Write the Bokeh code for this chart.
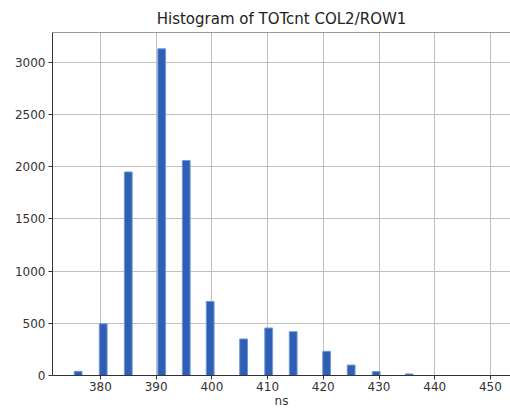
from bokeh.plotting import figure
from bokeh.models import Range1d, Span, FixedTicker
from bokeh.embed import file_html
from bokeh.resources import INLINE

# TOT count histogram for pixel COL2/ROW1 (bin centres in ns, counts)
bin_centers = [376.0, 380.5, 385.0, 391.0, 395.4, 399.7, 405.7, 410.2, 414.6, 420.6, 425.0, 429.5, 435.4]
counts = [40, 495, 1950, 3130, 2060, 710, 350, 455, 420, 232, 100, 38, 15]
bin_width = 1.4

x_ticks = [380, 390, 400, 410, 420, 430, 440, 450]
y_ticks = [0, 500, 1000, 1500, 2000, 2500, 3000]

X_MIN, X_MAX = 371.4, 453.6
Y_MAX = 3286
FONT = "DejaVu Sans"

p = figure(
    width=510, height=410,
    output_backend="svg", toolbar_location=None,
    x_range=Range1d(X_MIN, X_MAX), y_range=Range1d(0, Y_MAX),
    title="Histogram of TOTcnt COL2/ROW1",
    min_border_left=52, min_border_right=0, min_border_top=32, min_border_bottom=35,
)

p.vbar(x=bin_centers, top=counts, width=bin_width, bottom=0,
       fill_color="#2f5fb5", line_color="#6f9ad8", line_width=1)

p.title.align = "center"
p.title.text_font = FONT
p.title.text_font_size = "15px"
p.title.text_font_style = "normal"
p.title.text_color = "#222222"
p.title.offset = 0

# top spine only; the right edge of the axes sits at the page edge
p.outline_line_color = None
p.add_layout(Span(location=Y_MAX, dimension="width", line_color="#333333", line_width=1))

for ax in (p.xaxis[0], p.yaxis[0]):
    ax.axis_line_color = "#333333"
    ax.major_tick_line_color = "#333333"
    ax.major_tick_out = 4
    ax.major_tick_in = 0
    ax.minor_tick_line_color = None
    ax.major_label_text_font = FONT
    ax.major_label_text_font_size = "12px"
    ax.major_label_text_color = "#333333"
    ax.major_label_standoff = 3

p.xaxis.major_label_standoff = 2
p.xaxis.ticker = FixedTicker(ticks=x_ticks)
p.yaxis.ticker = FixedTicker(ticks=y_ticks)

p.xaxis.axis_label = "ns"
p.xaxis.axis_label_text_font = FONT
p.xaxis.axis_label_text_font_size = "12px"
p.xaxis.axis_label_text_font_style = "normal"
p.xaxis.axis_label_text_color = "#333333"
p.xaxis.axis_label_standoff = 0

p.xgrid.ticker = FixedTicker(ticks=x_ticks)
p.ygrid.ticker = FixedTicker(ticks=y_ticks)
p.grid.grid_line_color = "#c0c0c0"
p.grid.grid_line_width = 1

p.background_fill_color = "white"
p.border_fill_color = "white"

open("out.html", "w").write(file_html(p, INLINE))
